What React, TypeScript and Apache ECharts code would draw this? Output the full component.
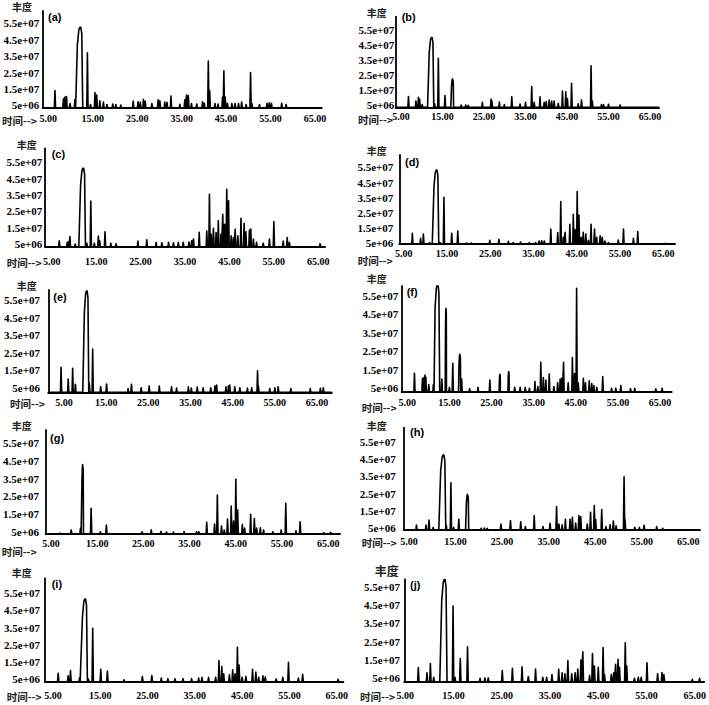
import React, { useEffect, useRef } from 'react';
import * as echarts from 'echarts';

// [retention time (min), abundance (x1e7), optional half-width for broad peaks (min)]
type Peak = number[];

const UNIT = 1e7;
const X_TICKS = [5, 15, 25, 35, 45, 55, 65];
const X_TICK_LABELS = ['5.00', '15.00', '25.00', '35.00', '45.00', '55.00', '65.00'];
const Y_TICKS = [5e6, 1.5e7, 2.5e7, 3.5e7, 4.5e7, 5.5e7];
const Y_TICK_LABELS = ['5e+06', '1.5e+07', '2.5e+07', '3.5e+07', '4.5e+07', '5.5e+07'];
const PANEL_TAGS = ['(a)', '(b)', '(c)', '(d)', '(e)', '(f)', '(g)', '(h)', '(i)', '(j)'];
const Y_NAME = '丰度';
const X_NAME = '时间-->';

const peaksA: Peak[] = [
  [6.5, 1.4], [8.4, 0.9], [8.75, 1.0], [9.1, 1.03], [9.9, 0.6], [11.0, 0.85], [12.2, 5.25, 1.1], [13.8, 3.7], [14.5, 0.55],
  [15.5, 1.27], [15.9, 1.13], [16.6, 0.78], [17.4, 0.7], [18.2, 0.55], [19.5, 0.58], [20.2, 0.55], [21.3, 0.52], [24.1, 0.76],
  [25.2, 0.72], [25.7, 0.68], [26.4, 0.87], [26.8, 0.75], [28.3, 0.6], [29.7, 0.83], [30.1, 0.78], [31.2, 0.7], [31.7, 0.68],
  [32.6, 1.07], [34.6, 0.56], [35.7, 0.83], [36.1, 1.13], [36.5, 1.09], [37.2, 0.6], [38.4, 0.58], [39.7, 0.72], [40.1, 0.62],
  [41.0, 3.2], [41.3, 1.4], [42.5, 0.6], [43.2, 0.58], [44.2, 1.0], [44.5, 2.6], [44.8, 1.0], [45.3, 0.62], [46.3, 0.6],
  [47.0, 0.6], [47.8, 0.6], [48.5, 0.7], [49.5, 0.55], [50.5, 2.5], [50.8, 0.6], [52.5, 0.55], [54.2, 0.62], [54.7, 0.65],
  [55.2, 0.62], [57.5, 0.62], [58.5, 0.55],
];

const peaksB: Peak[] = [
  [6.8, 1.08], [8.6, 0.79], [9.2, 1.03], [9.5, 0.9], [10.1, 0.55], [12.4, 5.0, 1.0], [13.1, 0.6], [14.0, 3.62], [15.6, 1.14],
  [17.45, 2.25, 0.45], [19.5, 0.52], [20.6, 0.52], [21.2, 0.5], [24.6, 0.7], [26.7, 0.92], [26.9, 0.8], [28.7, 0.72],
  [29.9, 0.55], [31.7, 1.07], [33.7, 0.59], [35.0, 0.7], [36.5, 1.74], [37.1, 0.7], [38.5, 1.07], [39.5, 0.7], [40.0, 0.75],
  [40.7, 0.85], [41.3, 0.79], [41.9, 0.78], [42.9, 0.62], [43.9, 1.45], [44.7, 1.4], [45.1, 0.95], [46.1, 1.96], [47.7, 0.6],
  [48.5, 0.85], [50.8, 3.13], [51.1, 0.79], [53.3, 0.55], [53.8, 0.55], [55.0, 0.57], [57.8, 0.52],
];

const peaksC: Peak[] = [
  [6.7, 0.7], [8.5, 0.6], [8.75, 0.64], [9.1, 0.95], [10.3, 0.5], [12.1, 5.13, 1.0], [12.9, 0.55], [13.8, 3.13], [14.6, 0.55],
  [15.5, 0.99], [15.8, 0.7], [17.0, 1.25], [18.3, 0.55], [19.5, 0.52], [24.4, 0.68], [26.4, 0.75], [28.5, 0.6], [29.8, 0.58],
  [31.3, 0.6], [32.4, 0.58], [33.5, 0.6], [34.6, 0.6], [35.9, 0.62], [36.5, 0.7], [36.9, 0.8], [38.2, 1.21], [39.9, 1.3],
  [40.5, 3.54], [40.9, 1.1], [41.4, 1.46], [42.0, 1.2], [42.5, 1.93], [43.1, 1.1], [43.5, 2.32], [43.9, 1.7], [44.1, 1.6],
  [44.4, 3.85], [44.8, 3.15], [45.4, 1.0], [45.9, 0.9], [46.3, 1.4], [46.9, 1.0], [47.6, 2.07], [48.3, 1.77], [48.7, 1.25],
  [49.5, 1.36], [49.8, 1.42], [50.4, 0.8], [51.1, 0.6], [52.6, 0.55], [54.0, 0.8], [55.0, 1.87], [57.1, 0.68], [58.0, 0.89],
  [58.5, 0.6], [65.4, 0.52],
];

const peaksD: Peak[] = [
  [7.0, 1.16], [8.9, 0.83], [9.55, 1.11], [11.0, 0.55], [12.6, 5.32, 1.0], [13.4, 0.55], [14.3, 3.53], [16.1, 1.16],
  [17.5, 1.31], [19.5, 0.52], [20.6, 0.52], [24.9, 0.7], [27.0, 0.76], [29.2, 0.63], [30.3, 0.55], [32.0, 0.58], [34.0, 0.55],
  [35.5, 0.55], [36.3, 0.65], [36.9, 0.67], [37.5, 0.65], [39.0, 1.44], [40.6, 1.2], [41.3, 3.24], [41.9, 0.9], [42.3, 1.22],
  [43.4, 1.75], [44.2, 2.4], [44.6, 1.4], [45.1, 3.9], [45.5, 2.36], [46.0, 0.9], [46.5, 1.22], [47.1, 1.11], [47.7, 0.7],
  [48.3, 1.75], [49.1, 1.44], [49.6, 0.9], [50.4, 1.0], [50.9, 0.9], [51.5, 0.65], [52.3, 0.55], [54.6, 0.72], [55.8, 1.44],
  [58.1, 0.83], [59.1, 1.27], [65.5, 0.5],
];

const peaksE: Peak[] = [
  [4.3, 1.66], [6.0, 1.0], [7.05, 1.6], [7.7, 0.7], [10.4, 6.01, 0.95], [11.0, 0.75], [11.8, 2.7], [13.7, 0.56], [15.1, 0.71],
  [20.2, 0.45], [21.0, 0.69], [23.3, 0.5], [25.2, 0.6], [27.6, 0.6], [30.5, 0.55], [31.7, 0.48], [34.5, 0.55], [35.2, 0.48],
  [36.6, 0.54], [38.0, 0.5], [39.8, 0.5], [40.8, 0.6], [41.2, 0.65], [43.4, 0.55], [44.0, 0.6], [44.3, 0.65], [45.5, 0.55],
  [46.7, 0.5], [48.5, 0.48], [49.5, 0.5], [50.9, 1.47], [51.1, 0.6], [53.8, 0.45], [55.0, 0.5], [55.8, 0.55], [58.8, 0.45],
  [63.4, 0.45], [65.8, 0.47], [66.5, 0.5],
];

const peaksF: Peak[] = [
  [6.7, 1.31], [8.6, 1.04], [9.0, 1.1], [9.2, 1.22], [9.4, 1.1], [10.1, 0.7], [11.2, 0.72], [12.2, 6.09, 1.0], [13.2, 1.0],
  [14.2, 4.82, 0.2], [15.0, 0.55], [15.8, 1.85], [17.5, 2.34, 0.35], [17.9, 1.0], [19.8, 0.48], [21.8, 0.55], [24.6, 0.95],
  [27.0, 1.26, 0.2], [29.1, 1.4, 0.2], [30.5, 0.55], [31.8, 0.55], [33.0, 0.55], [34.0, 0.5], [35.3, 0.86], [36.0, 0.6],
  [36.7, 1.9], [37.3, 1.08], [37.9, 0.95], [38.7, 1.27], [39.8, 0.6], [40.7, 0.8], [41.3, 1.0], [41.7, 1.05], [42.1, 1.9],
  [43.2, 0.8], [44.2, 2.16], [44.7, 1.3], [45.2, 5.9], [45.6, 0.8], [46.8, 1.04], [47.3, 0.8], [48.2, 0.91], [48.8, 0.75],
  [49.3, 0.65], [50.0, 0.55], [51.4, 1.13], [53.5, 0.5], [54.5, 0.5], [55.7, 0.65], [58.0, 0.48], [59.0, 0.5], [64.0, 0.47],
  [65.5, 0.5],
];

const peaksG: Peak[] = [
  [6.9, 0.42], [9.4, 0.6], [11.4, 0.69], [11.9, 4.3, 0.3], [13.7, 1.82], [15.7, 0.5], [17.0, 0.88], [24.7, 0.5], [26.7, 0.61],
  [28.8, 0.52], [30.0, 0.48], [31.5, 0.48], [33.8, 0.5], [36.5, 0.5], [37.0, 0.5], [38.7, 1.03], [40.4, 0.93], [41.0, 2.57],
  [41.9, 0.82], [42.5, 0.6], [43.2, 1.22], [44.0, 1.95], [44.5, 1.1], [45.0, 3.46], [45.4, 1.72], [46.4, 0.91], [46.9, 0.7],
  [48.2, 1.48], [49.0, 1.25], [49.5, 0.7], [50.3, 0.72], [51.0, 0.6], [53.0, 0.5], [54.8, 0.6], [55.8, 2.1], [58.0, 0.55],
  [58.9, 1.06], [64.0, 0.45], [65.5, 0.47],
];

const peaksH: Peak[] = [
  [6.6, 0.69], [8.65, 0.69], [9.3, 0.98], [10.2, 0.55], [12.4, 4.73, 1.0], [13.0, 0.69], [14.0, 3.13], [14.6, 0.55],
  [15.7, 1.02], [17.6, 2.46, 0.45], [20.5, 0.5], [21.2, 0.52], [21.8, 0.5], [24.75, 0.75], [26.8, 0.94], [29.0, 0.88],
  [30.0, 0.6], [31.9, 1.23], [33.8, 0.6], [35.3, 0.79], [36.7, 1.75], [37.2, 0.75], [37.9, 0.7], [38.6, 1.02], [39.6, 1.02],
  [40.1, 1.13], [40.8, 0.8], [41.5, 1.23], [41.9, 1.17], [43.3, 0.75], [44.0, 1.42], [44.8, 1.81], [45.1, 1.0], [46.4, 1.58],
  [47.3, 0.6], [48.2, 0.7], [48.9, 0.92], [49.5, 0.65], [51.2, 3.48], [51.4, 1.0], [53.5, 0.55], [54.5, 0.55], [55.5, 0.68],
  [58.2, 0.6], [59.5, 0.5],
];

const peaksI: Peak[] = [
  [6.1, 0.83], [8.2, 0.68], [8.7, 0.99], [10.6, 0.55], [11.8, 5.16, 0.95], [12.5, 0.5], [13.4, 3.46], [15.1, 1.07],
  [16.5, 0.97], [20.0, 0.45], [23.9, 0.64], [25.9, 0.7], [27.9, 0.55], [29.3, 0.52], [30.8, 0.52], [32.5, 0.52], [34.3, 0.52],
  [35.8, 0.55], [36.5, 0.6], [37.9, 0.6], [39.4, 0.6], [40.1, 1.57], [40.7, 1.22], [41.1, 0.8], [42.3, 0.75], [43.0, 1.03],
  [43.5, 0.8], [44.0, 2.35], [44.35, 1.32], [45.0, 0.6], [45.8, 0.65], [47.2, 1.07], [47.9, 0.9], [48.5, 0.6], [49.4, 0.68],
  [49.9, 0.62], [52.2, 0.5], [53.6, 0.6], [54.8, 1.47], [56.9, 0.55], [57.8, 0.77], [65.3, 0.48],
];

const peaksJ: Peak[] = [
  [7.7, 1.08], [9.5, 0.8], [10.2, 1.31], [10.9, 0.55], [13.15, 5.88, 1.0], [14.9, 4.43], [15.3, 0.55], [16.4, 1.58],
  [17.9, 2.21], [20.5, 0.5], [21.5, 0.52], [22.2, 0.52], [25.1, 0.92], [27.2, 1.04], [29.2, 1.13], [30.5, 0.6], [32.0, 1.0],
  [33.5, 0.55], [34.3, 0.55], [35.4, 0.7], [36.8, 0.99], [37.5, 0.8], [38.1, 0.75], [38.7, 1.46], [39.5, 0.75], [40.2, 0.8],
  [40.75, 1.0], [41.4, 1.49], [41.8, 1.94], [43.2, 0.65], [43.8, 1.85], [44.2, 1.17], [45.0, 1.1], [46.0, 2.18], [46.3, 0.7],
  [47.7, 0.7], [48.2, 0.8], [48.6, 1.26], [49.1, 1.53], [49.4, 1.1], [50.6, 2.43], [50.9, 1.17], [52.5, 0.5], [53.3, 0.55],
  [53.9, 0.55], [55.1, 1.35], [57.3, 0.75], [58.2, 0.81], [58.6, 0.7], [64.5, 0.45], [66.0, 0.5],
];

const PANEL_PEAKS = [peaksA, peaksB, peaksC, peaksD, peaksE, peaksF, peaksG, peaksH, peaksI, peaksJ];

// pixel layout of each panel (axis line, tick-label anchor positions, texts)
const LAYOUT = [
  { x0: 42.7, x5: 48.3, x65: 315, xEnd: 321.7, yTop: 11, yBase: 107.7, y55: 23.3, y5: 105.3, yLblR: 39.3, xLblY: 119, fx: 22, fy: 6.5, fs: 10, sx: 2, sy: 120, tx: 48, ty: 16.7 },
  { x0: 395.7, x5: 401, x65: 650, xEnd: 659, yTop: 16.7, yBase: 107.3, y55: 30, y5: 105.3, yLblR: 394.3, xLblY: 117.3, fx: 376.7, fy: 12, fs: 10, sx: 358, sy: 119, tx: 401.7, ty: 17 },
  { x0: 45, x5: 51.7, x65: 318.3, xEnd: 325, yTop: 148.3, yBase: 246.7, y55: 162.3, y5: 244, yLblR: 42.3, xLblY: 262.3, fx: 26.7, fy: 144.3, fs: 10, sx: 6.7, sy: 262, tx: 51.7, ty: 154.3 },
  { x0: 399.3, x5: 403.7, x65: 663.3, xEnd: 675, yTop: 155, yBase: 244, y55: 167.3, y5: 243.3, yLblR: 393.3, xLblY: 254, fx: 376.7, fy: 150, fs: 10, sx: 357.7, sy: 260, tx: 405, ty: 161.7 },
  { x0: 48.3, x5: 64, x65: 317, xEnd: 331.7, yTop: 290, yBase: 392.3, y55: 300, y5: 387.7, yLblR: 40, xLblY: 403.3, fx: 26.7, fy: 285, fs: 10, sx: 10, sy: 403, tx: 53.3, ty: 296.7 },
  { x0: 401.7, x5: 407.3, x65: 660, xEnd: 671.7, yTop: 286, yBase: 391.7, y55: 295.7, y5: 388.3, yLblR: 398.3, xLblY: 403.3, fx: 376.7, fy: 278.3, fs: 10, sx: 361.7, sy: 407.3, tx: 406.7, ty: 291.7 },
  { x0: 45, x5: 50.3, x65: 328.3, xEnd: 340, yTop: 430, yBase: 534, y55: 443.3, y5: 531.7, yLblR: 38.3, xLblY: 544.3, fx: 21.7, fy: 425, fs: 10, sx: 1.7, sy: 551, tx: 50, ty: 437.7 },
  { x0: 404, x5: 409, x65: 688.3, xEnd: 700, yTop: 427.7, yBase: 530, y55: 441.7, y5: 528.3, yLblR: 395.7, xLblY: 542.7, fx: 376.7, fy: 425, fs: 10, sx: 361.7, sy: 542.7, tx: 410, ty: 431.7 },
  { x0: 45, x5: 53, x65: 336.7, xEnd: 343.3, yTop: 578.3, yBase: 681.7, y55: 593.3, y5: 679, yLblR: 40, xLblY: 696, fx: 21.7, fy: 572.7, fs: 10, sx: 6.7, sy: 696, tx: 51.7, ty: 584 },
  { x0: 404.3, x5: 405.3, x65: 697.3, xEnd: 706.7, yTop: 579.3, yBase: 681.7, y55: 586.5, y5: 678.3, yLblR: 400, xLblY: 696.7, fx: 386.7, fy: 570, fs: 12, sx: 360, sy: 696.7, tx: 410, ty: 585 },
];

const X_FONT = 10;
const Y_FONT = 11;
const SERIF = '"Liberation Serif", "Times New Roman", serif';
const SANS = '"Liberation Sans", Arial, sans-serif';
const CJK = '"Noto Sans CJK SC", sans-serif';

function buildPoints(peaks: Peak[], base: number, xmin: number, xmax: number) {
  const sorted = [...peaks].sort((a, b) => a[0] - b[0]);
  const pts: number[][] = [[xmin, base]];
  for (const p of sorted) {
    const t = p[0];
    const h = p[1] * UNIT;
    const w = p[2];
    if (w === undefined) {
      pts.push([t - 0.14, base], [t, h], [t + 0.14, base]);
    } else {
      pts.push(
        [t - w, base],
        [t - 0.6 * w, 0.8 * h],
        [t - 0.3 * w, 0.97 * h],
        [t - 0.1 * w, h],
        [t + 0.1 * w, h],
        [t + 0.3 * w, 0.93 * h],
        [t + 0.5 * w, base],
      );
    }
  }
  pts.push([xmax, base]);
  return pts;
}

export default function App() {
  const ref = useRef<HTMLDivElement>(null);

  useEffect(() => {
    if (!ref.current) return;
    const chart = echarts.init(ref.current, undefined, { renderer: 'svg' });

    const grids: any[] = [];
    const xAxes: any[] = [];
    const yAxes: any[] = [];
    const series: any[] = [];
    const graphics: any[] = [];

    LAYOUT.forEach((L, i) => {
      const pxPerMin = (L.x65 - L.x5) / 60;
      const xmin = 5 - (L.x5 - L.x0) / pxPerMin;
      const xmax = 65 + (L.xEnd - L.x65) / pxPerMin;
      const pxPerUnit = (L.y5 - L.y55) / 5e7;
      const ymin = 5e6 - (L.yBase - L.y5) / pxPerUnit;
      const ymax = 5.5e7 + (L.y55 - L.yTop) / pxPerUnit;

      grids.push({ left: L.x0, top: L.yTop, width: L.xEnd - L.x0, height: L.yBase - L.yTop, containLabel: false });
      xAxes.push({
        type: 'value', gridIndex: i, min: xmin, max: xmax,
        axisLine: { show: true, onZero: false, lineStyle: { color: '#000', width: 2 } },
        axisTick: { show: false },
        splitLine: { show: false },
        axisLabel: {
          show: true,
          customValues: X_TICKS,
          margin: L.xLblY - L.yBase - X_FONT / 2 - 1,
          color: '#000', fontFamily: SERIF, fontWeight: 'bold', fontSize: X_FONT,
          formatter: (v: number) => {
            const k = X_TICKS.findIndex((t) => Math.abs(t - v) < 1e-6);
            return k >= 0 ? X_TICK_LABELS[k] : '';
          },
        },
      });
      yAxes.push({
        type: 'value', gridIndex: i, min: ymin, max: ymax,
        axisLine: { show: true, onZero: false, lineStyle: { color: '#000', width: 1.8 } },
        axisTick: { show: false },
        splitLine: { show: false },
        axisLabel: {
          show: true,
          customValues: Y_TICKS,
          margin: L.x0 - L.yLblR,
          color: '#000', fontFamily: SERIF, fontWeight: 'bold', fontSize: Y_FONT,
          formatter: (v: number) => {
            const k = Y_TICKS.findIndex((t) => Math.abs(t - v) < 1);
            return k >= 0 ? Y_TICK_LABELS[k] : '';
          },
        },
      });
      series.push({
        type: 'line', xAxisIndex: i, yAxisIndex: i,
        data: buildPoints(PANEL_PEAKS[i], ymin, xmin, xmax),
        showSymbol: false, symbol: 'none', clip: true,
        lineStyle: { color: '#000', width: 1.6, join: 'round' },
        silent: true,
      });
      graphics.push(
        {
          type: 'text', x: L.fx, y: L.fy,
          style: { text: Y_NAME, fill: '#222', fontFamily: CJK, fontWeight: 'bold', fontSize: L.fs, align: 'center', verticalAlign: 'middle', textAlign: 'center', textVerticalAlign: 'middle' },
        },
        {
          type: 'text', x: L.sx, y: L.sy,
          style: { text: X_NAME, fill: '#222', fontFamily: CJK, fontWeight: 'bold', fontSize: 10.5, align: 'left', verticalAlign: 'middle', textAlign: 'left', textVerticalAlign: 'middle' },
        },
        {
          type: 'text', x: L.tx, y: L.ty,
          style: { text: PANEL_TAGS[i], fill: '#000', fontFamily: SANS, fontWeight: 'bold', fontSize: 11, align: 'left', verticalAlign: 'middle', textAlign: 'left', textVerticalAlign: 'middle' },
        },
      );
    });

    chart.setOption({
      animation: false,
      backgroundColor: '#fff',
      grid: grids,
      xAxis: xAxes,
      yAxis: yAxes,
      series,
      graphic: { elements: graphics },
    });

    return () => chart.dispose();
  }, []);

  return <div ref={ref} style={{ position: 'absolute', left: 0, top: 0, width: 709, height: 705 }} />;
}
